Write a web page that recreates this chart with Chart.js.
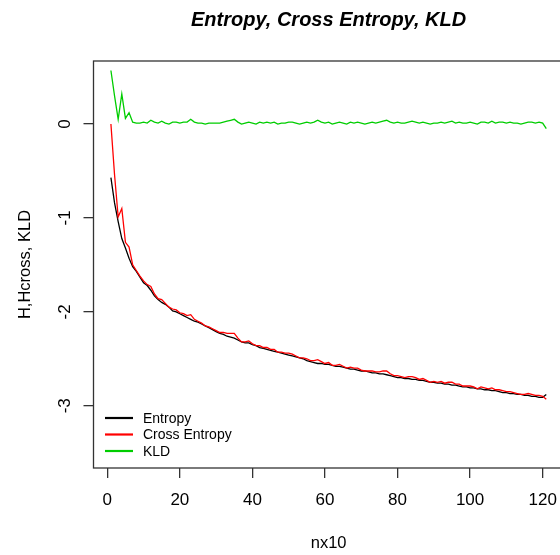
<!DOCTYPE html>
<html>
<head>
<meta charset="utf-8">
<script src="https://cdn.jsdelivr.net/npm/chart.js@4/dist/chart.umd.min.js"></script>
<style>
  html,body{margin:0;padding:0;background:#fff;overflow:hidden;}
  canvas{display:block;}
</style>
</head>
<body>
<canvas id="c" width="570" height="555"></canvas>
<script>
(function(){
  'use strict';

  // values, one per nx10 step (1..121)
  const entropy = [
    -0.57,-0.84,-1.04,-1.22,-1.32,-1.43,-1.52,-1.57,-1.63,-1.69,
    -1.72,-1.77,-1.83,-1.87,-1.90,-1.92,-1.95,-1.99,-2.00,-2.02,
    -2.04,-2.06,-2.08,-2.10,-2.11,-2.13,-2.15,-2.17,-2.19,-2.21,
    -2.23,-2.24,-2.26,-2.27,-2.28,-2.30,-2.32,-2.33,-2.33,-2.35,
    -2.36,-2.38,-2.39,-2.40,-2.41,-2.42,-2.43,-2.44,-2.45,-2.46,
    -2.47,-2.48,-2.49,-2.50,-2.52,-2.53,-2.54,-2.55,-2.55,-2.56,
    -2.56,-2.57,-2.58,-2.58,-2.59,-2.60,-2.61,-2.61,-2.62,-2.63,
    -2.63,-2.64,-2.65,-2.65,-2.66,-2.66,-2.67,-2.68,-2.69,-2.70,
    -2.70,-2.71,-2.71,-2.72,-2.72,-2.73,-2.73,-2.74,-2.75,-2.75,
    -2.76,-2.76,-2.77,-2.77,-2.78,-2.78,-2.79,-2.80,-2.80,-2.81,
    -2.81,-2.82,-2.82,-2.83,-2.83,-2.84,-2.84,-2.85,-2.86,-2.86,
    -2.87,-2.87,-2.88,-2.88,-2.89,-2.89,-2.90,-2.90,-2.91,-2.91,
    -2.88
  ];
  const crossEntropy = [
     0.00,-0.54,-0.99,-0.90,-1.26,-1.31,-1.50,-1.56,-1.62,-1.67,
    -1.71,-1.73,-1.81,-1.86,-1.87,-1.91,-1.95,-1.97,-1.98,-2.01,
    -2.02,-2.04,-2.03,-2.08,-2.10,-2.12,-2.15,-2.16,-2.18,-2.20,
    -2.22,-2.22,-2.23,-2.23,-2.23,-2.28,-2.32,-2.32,-2.31,-2.34,
    -2.36,-2.36,-2.38,-2.38,-2.40,-2.40,-2.43,-2.43,-2.44,-2.44,
    -2.45,-2.47,-2.49,-2.49,-2.50,-2.52,-2.52,-2.51,-2.53,-2.55,
    -2.54,-2.57,-2.57,-2.56,-2.58,-2.60,-2.59,-2.60,-2.60,-2.62,
    -2.63,-2.63,-2.63,-2.64,-2.64,-2.63,-2.63,-2.66,-2.68,-2.68,
    -2.69,-2.70,-2.69,-2.69,-2.70,-2.72,-2.71,-2.73,-2.75,-2.74,
    -2.75,-2.74,-2.76,-2.75,-2.75,-2.77,-2.77,-2.79,-2.79,-2.79,
    -2.80,-2.82,-2.80,-2.81,-2.82,-2.81,-2.83,-2.83,-2.84,-2.85,
    -2.85,-2.86,-2.87,-2.88,-2.88,-2.87,-2.88,-2.89,-2.89,-2.90,
    -2.93
  ];
  const kld = [
    0.57,0.30,0.05,0.32,0.06,0.12,0.02,0.01,0.01,0.02,
    0.01,0.04,0.02,0.01,0.03,0.01,0.00,0.02,0.02,0.01,
    0.02,0.02,0.05,0.02,0.01,0.01,0.00,0.01,0.01,0.01,
    0.01,0.02,0.03,0.04,0.05,0.02,0.00,0.01,0.02,0.01,
    0.00,0.02,0.01,0.02,0.01,0.02,0.00,0.01,0.01,0.02,
    0.02,0.01,0.00,0.01,0.02,0.01,0.02,0.04,0.02,0.01,
    0.02,0.00,0.01,0.02,0.01,0.00,0.02,0.01,0.02,0.01,
    0.00,0.01,0.02,0.01,0.02,0.03,0.04,0.02,0.01,0.02,
    0.01,0.01,0.02,0.03,0.02,0.01,0.02,0.01,0.00,0.01,
    0.01,0.02,0.01,0.02,0.03,0.01,0.02,0.01,0.01,0.02,
    0.01,0.00,0.02,0.02,0.01,0.03,0.01,0.02,0.02,0.01,
    0.02,0.01,0.01,0.00,0.01,0.02,0.02,0.01,0.02,0.01,
    -0.05
  ];
  const nx = entropy.map((_, i) => i + 1);
  const xTicks = [0, 20, 40, 60, 80, 100, 120];
  const yTicks = [0, -1, -2, -3];
  const seriesNames = ['Entropy', 'Cross Entropy', 'KLD'];
  const seriesColors = ['#000000', '#ff0000', '#00cd00'];

  const FONT = '"Liberation Sans", Arial, sans-serif';
  const pts = arr => arr.map((v, i) => ({x: nx[i], y: v}));

  // R-style frame, titles, rotated y labels, boxless legend
  const rDecor = {
    id: 'rDecor',
    afterDraw(chart){
      const {ctx, chartArea: a, scales} = chart;
      ctx.save();
      ctx.strokeStyle = '#333'; ctx.lineWidth = 1.3;
      ctx.strokeRect(a.left, a.top, a.right - a.left, a.bottom - a.top);
      ctx.fillStyle = '#000';
      ctx.textAlign = 'center'; ctx.textBaseline = 'middle';
      const cx = (a.left + a.right) / 2, cy = (a.top + a.bottom) / 2;
      ctx.font = 'italic bold 20px ' + FONT;
      ctx.fillText('Entropy, Cross Entropy, KLD', cx, 20);
      ctx.font = '16.5px ' + FONT;
      ctx.fillText('nx10', cx, 543);
      ctx.save(); ctx.translate(25, cy); ctx.rotate(-Math.PI/2);
      ctx.fillText('H,Hcross, KLD', 0, 0); ctx.restore();
      ctx.font = '17px ' + FONT;
      yTicks.forEach(v => {
        const y = scales.y.getPixelForValue(v);
        ctx.save(); ctx.translate(65, y); ctx.rotate(-Math.PI/2);
        ctx.fillText(String(v), 0, 0); ctx.restore();
      });
      ctx.font = '14px ' + FONT; ctx.textAlign = 'left';
      ctx.lineWidth = 2.2;
      chart.data.datasets.forEach((ds, i) => {
        const y = 418 + i * 16.5;
        ctx.strokeStyle = ds.borderColor;
        ctx.beginPath(); ctx.moveTo(105, y); ctx.lineTo(133, y); ctx.stroke();
        ctx.fillText(ds.label, 143, y + 1);
      });
      ctx.restore();
    }
  };

  const ds = [entropy, crossEntropy, kld].map((arr, i) => ({
    label: seriesNames[i],
    data: pts(arr),
    borderColor: seriesColors[i],
    borderWidth: 1.3,
    pointRadius: 0,
    tension: 0,
    fill: false,
    order: 3 - i
  }));

  new Chart(document.getElementById('c').getContext('2d'), {
    type: 'line',
    data: { datasets: ds },
    options: {
      responsive: false,
      animation: false,
      layout: { padding: { left: 0, top: 61, right: 6.3, bottom: 0 } },
      plugins: { legend: { display: false }, tooltip: { enabled: false } },
      scales: {
        x: {
          type: 'linear', min: -3.8, max: 125.8,
          afterBuildTicks: s => { s.ticks = xTicks.map(v => ({value: v})); },
          afterFit: s => { s.height = 87; },
          grid: { drawOnChartArea: false, drawTicks: true, tickLength: 10, color: '#333', lineWidth: 1.3 },
          border: { display: false },
          ticks: { color: '#000', font: { family: FONT, size: 17 }, padding: 12, maxRotation: 0, autoSkip: false }
        },
        y: {
          type: 'linear', min: -3.663, max: 0.671,
          afterBuildTicks: s => { s.ticks = yTicks.map(v => ({value: v})); },
          afterFit: s => { s.width = 93.5; },
          grid: { drawOnChartArea: false, drawTicks: true, tickLength: 10, color: '#333', lineWidth: 1.3 },
          border: { display: false },
          ticks: { display: false }
        }
      }
    },
    plugins: [rDecor]
  });
})();
</script>
</body>
</html>
